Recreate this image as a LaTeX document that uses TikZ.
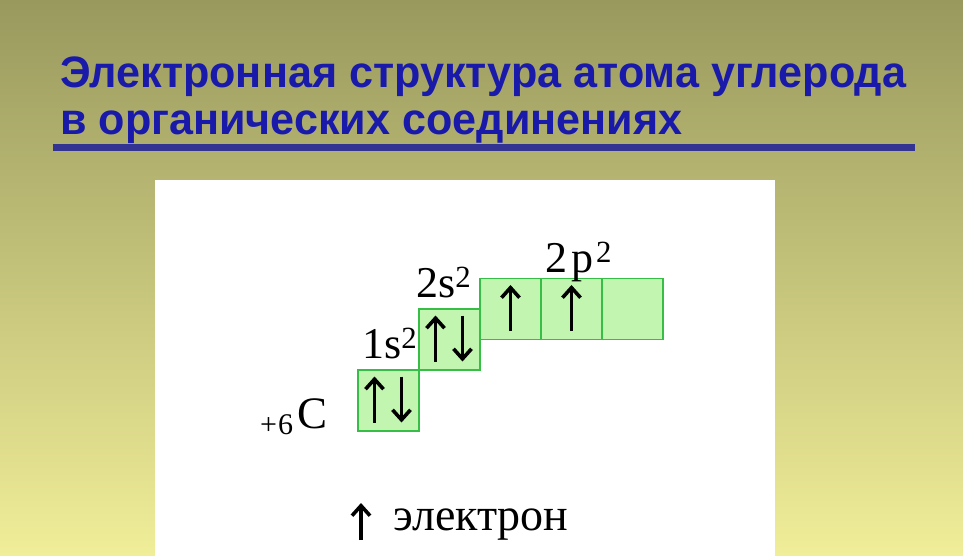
\documentclass[tikz,border=0pt]{standalone}
\usepackage{fontspec}
\setmainfont{Liberation Serif}
\newfontfamily\titlefont{Liberation Sans}
\usetikzlibrary{positioning,calc,arrows.meta}
\definecolor{bgtop}{RGB}{153,153,94}
\definecolor{bgbot}{RGB}{240,238,152}
\definecolor{titleblue}{RGB}{26,26,170}
\definecolor{rulebl}{RGB}{51,51,145}
\definecolor{orbfill}{RGB}{194,246,176}
\definecolor{orbline}{RGB}{55,190,70}

\tikzset{
  orb/.style={draw=orbline, line width=1.5pt, fill=orbfill, minimum size=61pt, inner sep=0pt, outer sep=0pt},
  spin/.style={line width=3.6pt, -{Straight Barb[length=10pt,width=18pt]}},
  lbl/.style={inner sep=0pt, font=\fontsize{44}{46}\selectfont},
  ttl/.style={inner sep=0pt, anchor=base west, text=titleblue, font=\titlefont\bfseries\fontsize{44}{46}\selectfont}
}

\begin{document}
\begin{tikzpicture}[x=1pt,y=-1pt]
    \useasboundingbox (0,0) rectangle (963,556);
    \shade[top color=bgtop, bottom color=bgbot] (0,0) rectangle (963,556);

    % title
    \node[ttl] (t1) at (60,88) {\scalebox{0.98}[1]{Электронная структура атома углерода}};
    \node[ttl] (t2) at (60,135) {\scalebox{0.98}[1]{в органических соединениях}};
    \fill[rulebl] (53,144) rectangle (915,151);

    % white panel
    \fill[white] (155,180) rectangle (775,556);

    % orbitals
    \node[orb] (s1) at (388.5,400.5) {};
    \node[orb, anchor=south west] (s2) at (s1.north east) {};
    \node[orb, anchor=south west] (p1) at (s2.east) {};
    \node[orb, right=0pt of p1] (p2) {};
    \node[orb, right=0pt of p2] (p3) {};

    % spins
    \foreach \b in {s1,s2} {
      \draw[spin] ($(\b.center)+(-14,22)$) -- ++(0,-46);
      \draw[spin] ($(\b.center)+(13,-24)$) -- ++(0,46);
    }
    \foreach \b in {p1,p2}
      \draw[spin] ($(\b.center)+(0,22)$) -- ++(0,-46);

    % labels
    \node[lbl, anchor=base west] (l1s) at (362,358) {1s\textsuperscript{2}};
    \node[lbl, anchor=base west] (l2s) at (416,297) {2s\textsuperscript{2}};
    \node[lbl, anchor=base west] (l2p) at (545,272) {2\kern4pt p\textsuperscript{\kern3pt 2}};
    \node[lbl, anchor=base west] (lc) at (260,428) {\raisebox{-6pt}{\fontsize{30}{32}\selectfont +\kern1pt 6}\kern4pt{\fontsize{45}{47}\selectfont C}};

    % legend
    \coordinate (lg) at (361,540);
    \draw[spin] (lg) -- ++(0,-37);
    \node[lbl, anchor=base west, font=\fontsize{46}{48}\selectfont] (le) at (393,530) {электрон};
\end{tikzpicture}
\end{document}
